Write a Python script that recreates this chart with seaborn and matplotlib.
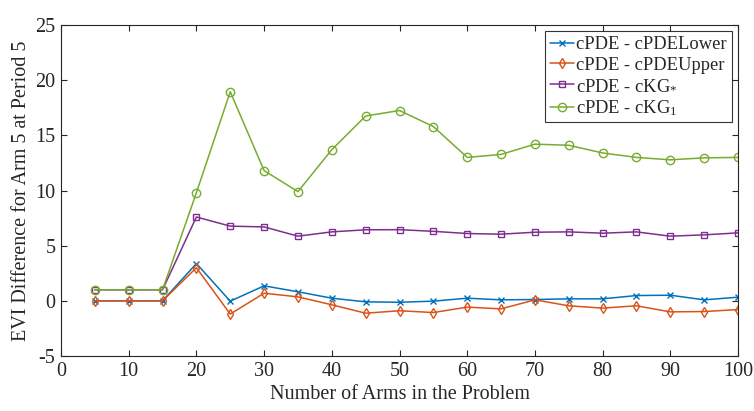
import matplotlib
matplotlib.use("Agg")
import matplotlib.pyplot as plt
import seaborn as sns
import pandas as pd

arms = [5, 10, 15, 20, 25, 30, 35, 40, 45, 50, 55, 60, 65, 70, 75, 80, 85, 90, 95, 100]
lower = [0.0, 0.0, 0.0, 3.38, -0.03, 1.36, 0.82, 0.24, -0.09, -0.13, -0.03, 0.24, 0.09, 0.12, 0.18, 0.18, 0.48, 0.51, 0.09, 0.33]
upper = [0.0, 0.0, 0.0, 3.0, -1.2, 0.69, 0.36, -0.36, -1.12, -0.9, -1.06, -0.57, -0.73, 0.09, -0.45, -0.66, -0.45, -1.0, -0.97, -0.79]
kgstar = [1.0, 1.0, 1.0, 7.6, 6.77, 6.7, 5.86, 6.25, 6.44, 6.45, 6.3, 6.1, 6.04, 6.22, 6.25, 6.13, 6.25, 5.86, 5.98, 6.16]
kg1 = [1.0, 1.0, 1.0, 9.8, 18.95, 11.8, 9.9, 13.7, 16.75, 17.25, 15.8, 13.0, 13.27, 14.2, 14.1, 13.4, 13.0, 12.78, 12.96, 13.0]

labels = ["cPDE - cPDELower", "cPDE - cPDEUpper", "cPDE - cKG$_{*}$", "cPDE - cKG$_{1}$"]
colors = ["#0072BD", "#D95319", "#7E2F8E", "#77AC30"]
markers = ["x", "d", "s", "o"]
msizes = [4, 5.5, 4.5, 6]
series = [lower, upper, kgstar, kg1]

xticks = [0, 10, 20, 30, 40, 50, 60, 70, 80, 90, 100]
yticks = [-5, 0, 5, 10, 15, 20, 25]

sns.set_style("white")
plt.rcParams["font.family"] = ["Liberation Serif", "DejaVu Serif"]
plt.rcParams["mathtext.fontset"] = "custom"
plt.rcParams["mathtext.rm"] = "Liberation Serif"
plt.rcParams["mathtext.it"] = "Liberation Serif"
plt.rcParams["axes.unicode_minus"] = False

fig = plt.figure(figsize=(7.54, 4.11), dpi=100)
ax = fig.add_axes([61 / 754, 1 - 356 / 411, (738 - 61) / 754, (356 - 25) / 411])

for lab, col, mk, ms, ys in zip(labels, colors, markers, msizes, series):
    df = pd.DataFrame({"arms": arms, "val": ys})
    sns.lineplot(data=df, x="arms", y="val", ax=ax, color=col, marker=mk,
                 markersize=ms, markerfacecolor="none" if mk != "x" else col,
                 markeredgecolor=col, markeredgewidth=1.0, linewidth=1.1, label=lab)

ax.set_xlim(0, 100)
ax.set_ylim(-5, 25)
ax.set_xticks(xticks)
ax.set_yticks(yticks)
ax.tick_params(direction="in", length=4, width=0.8, color="#262626",
               labelsize=14.5, labelcolor="#262626", top=True, right=True,
               bottom=True, left=True, pad=4)
for s in ax.spines.values():
    s.set_color("#262626")
    s.set_linewidth(0.8)
    s.set_visible(True)
ax.set_xlabel("Number of Arms in the Problem", fontsize=14.5, color="#262626", labelpad=3)
ax.set_ylabel("EVI Difference for Arm 5 at Period 5", fontsize=14.5, color="#262626", labelpad=3)

leg = ax.legend(loc="upper right", fontsize=13.3, frameon=True, fancybox=False,
                edgecolor="black", handlelength=1.3, handletextpad=0.15,
                borderpad=0.25, labelspacing=0.2, borderaxespad=0.35)
leg.get_frame().set_linewidth(0.8)

fig.savefig("out.png", dpi=100)
